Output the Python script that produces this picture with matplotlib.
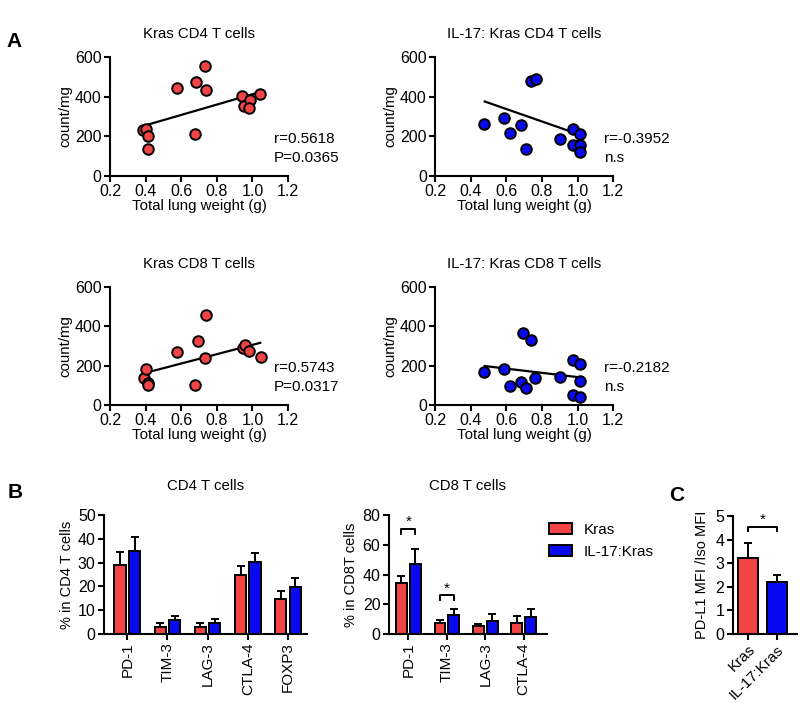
import matplotlib.pyplot as plt
import numpy as np

plt.rcParams['font.family'] = ['Liberation Sans', 'DejaVu Sans']
plt.rcParams['font.size'] = 10

RED = '#f24444'
BLUE = '#0a0af0'

# Panel A data: total lung weight (g) vs count/mg
kras_cd4_w = [0.388, 0.403, 0.416, 0.416, 0.579, 0.684, 0.678, 0.731, 0.738, 0.941, 0.954, 0.988, 0.982, 1.044]
kras_cd4_c = [230, 239, 200, 138, 445, 474, 213, 553, 435, 402, 351, 381, 343, 412]
il17_cd4_w = [0.476, 0.585, 0.622, 0.682, 0.710, 0.738, 0.767, 0.900, 0.975, 0.975, 1.016, 1.016, 1.011]
il17_cd4_c = [260, 294, 217, 257, 138, 477, 489, 185, 237, 158, 210, 158, 121]
kras_cd8_w = [0.391, 0.403, 0.412, 0.412, 0.579, 0.678, 0.693, 0.731, 0.737, 0.945, 0.960, 0.981, 1.048]
kras_cd8_c = [135, 184, 113, 100, 270, 101, 326, 240, 456, 289, 306, 275, 242]
il17_cd8_w = [0.476, 0.585, 0.622, 0.682, 0.710, 0.693, 0.738, 0.763, 0.900, 0.975, 1.016, 1.016, 0.975, 1.013]
il17_cd8_c = [169, 181, 96, 117, 84, 365, 328, 137, 144, 228, 208, 123, 51, 39]

# regression line ends as printed (x, y)
fit_kras_cd4 = ([0.397, 1.044], [255, 424])
fit_il17_cd4 = ([0.478, 1.007], [376, 210])
fit_kras_cd8 = ([0.403, 1.044], [164, 316])
fit_il17_cd8 = ([0.478, 1.016], [198, 140])

# Panel B data
cd4_markers = ['PD-1', 'TIM-3', 'LAG-3', 'CTLA-4', 'FOXP3']
cd4_kras = [29, 3, 3, 25, 14.7]
cd4_kras_err = [5.5, 1.5, 1.5, 3.5, 3.2]
cd4_il17 = [34.7, 5.7, 4.5, 30.3, 19.6]
cd4_il17_err = [6, 2, 2, 3.7, 3.8]

cd8_markers = ['PD-1', 'TIM-3', 'LAG-3', 'CTLA-4']
cd8_kras = [34.5, 7.5, 5.7, 7.2]
cd8_kras_err = [4.5, 2, 0.8, 4.8]
cd8_il17 = [47.3, 12.7, 8.5, 11.2]
cd8_il17_err = [10.2, 4.3, 5, 5.8]

# Panel C data
c_groups = ['Kras', 'IL-17:Kras']
c_vals = [3.22, 2.22]
c_err = [0.63, 0.28]

fig = plt.figure(figsize=(8, 7.08), dpi=100)


def style(ax):
    for s in ['top', 'right']:
        ax.spines[s].set_visible(False)
    for s in ['left', 'bottom']:
        ax.spines[s].set_linewidth(1.5)
    ax.tick_params(width=1.5, length=4, labelsize=11.5, pad=2)


def scatter_panel(rect, w, c, fit, color, title, r_txt, p_txt, tx):
    ax = fig.add_axes(rect)
    style(ax)
    ax.scatter(w, c, s=58, color=color, edgecolors='black', linewidths=1.4, zorder=3, clip_on=False)
    ax.plot(fit[0], fit[1], color='black', lw=1.6, zorder=2)
    ax.set_xlim(0.2, 1.2)
    ax.set_ylim(0, 600)
    ax.set_xticks([0.2, 0.4, 0.6, 0.8, 1.0, 1.2])
    ax.set_yticks([0, 200, 400, 600])
    ax.set_xlabel('Total lung weight (g)', fontsize=10.8, labelpad=0)
    ax.set_ylabel('count/mg', fontsize=10.8, labelpad=2)
    ax.set_title(title, fontsize=10.8, pad=14)
    ax.text(tx, 0.31, r_txt, transform=ax.transAxes, fontsize=11, va='center')
    ax.text(tx, 0.15, p_txt, transform=ax.transAxes, fontsize=11, va='center')
    return ax


scatter_panel([0.1375, 0.7514, 0.2225, 0.168], kras_cd4_w, kras_cd4_c, fit_kras_cd4, RED,
              'Kras CD4 T cells', 'r=0.5618', 'P=0.0365', 0.92)
scatter_panel([0.544, 0.7514, 0.2225, 0.168], il17_cd4_w, il17_cd4_c, fit_il17_cd4, BLUE,
              'IL-17: Kras CD4 T cells', 'r=-0.3952', 'n.s', 0.95)
scatter_panel([0.1375, 0.428, 0.2225, 0.1667], kras_cd8_w, kras_cd8_c, fit_kras_cd8, RED,
              'Kras CD8 T cells', 'r=0.5743', 'P=0.0317', 0.92)
scatter_panel([0.544, 0.428, 0.2225, 0.1667], il17_cd8_w, il17_cd8_c, fit_il17_cd8, BLUE,
              'IL-17: Kras CD8 T cells', 'r=-0.2182', 'n.s', 0.95)


def bar_panel(rect, markers, k, ke, il, ile, ymax, ystep, xlim, title, ylabel):
    ax = fig.add_axes(rect)
    style(ax)
    x = np.arange(len(markers))
    w = 0.28
    ax.bar(x - 0.18, k, w, color=RED, edgecolor='black', lw=1.4, label='Kras', zorder=2)
    ax.bar(x + 0.18, il, w, color=BLUE, edgecolor='black', lw=1.4, label='IL-17:Kras', zorder=2)
    ax.errorbar(x - 0.18, k, yerr=[np.zeros(len(k)), ke], fmt='none', ecolor='black',
                elinewidth=1.4, capsize=3, capthick=1.4, zorder=1)
    ax.errorbar(x + 0.18, il, yerr=[np.zeros(len(il)), ile], fmt='none', ecolor='black',
                elinewidth=1.4, capsize=3, capthick=1.4, zorder=1)
    ax.set_xticks(x)
    ax.set_xticklabels(markers, rotation=90, fontsize=11)
    ax.set_xlim(*xlim)
    ax.set_ylim(0, ymax)
    ax.set_yticks(np.arange(0, ymax + 1, ystep))
    ax.set_ylabel(ylabel, fontsize=10.5, labelpad=3)
    ax.set_title(title, fontsize=10.8, pad=18)
    return ax


bar_panel([0.13, 0.1045, 0.254, 0.168], cd4_markers, cd4_kras, cd4_kras_err,
          cd4_il17, cd4_il17_err, 50, 10, (-0.58, 4.48), 'CD4 T cells', '% in CD4 T cells')
ax8 = bar_panel([0.486, 0.1045, 0.1975, 0.168], cd8_markers, cd8_kras, cd8_kras_err,
                cd8_il17, cd8_il17_err, 80, 20, (-0.51, 3.6), 'CD8 T cells', '% in CD8T cells')


def bracket(ax, x0, x1, y, h):
    ax.plot([x0, x0, x1, x1], [y - h, y, y, y - h], color='black', lw=1.4, clip_on=False)
    ax.text((x0 + x1) / 2, y, '*', ha='center', va='bottom', fontsize=11)


bracket(ax8, -0.18, 0.18, 70.5, 3)
bracket(ax8, 0.82, 1.18, 26, 3)
ax8.legend(loc='upper left', bbox_to_anchor=(0.93, 1.05), frameon=False, fontsize=11,
           handlelength=1.45, handleheight=0.75, handletextpad=0.8, labelspacing=0.5)

# Panel C
axc = fig.add_axes([0.916, 0.1045, 0.08, 0.1667])
style(axc)
xc = np.arange(len(c_groups))
axc.bar(xc, c_vals, 0.69, color=[RED, BLUE], edgecolor='black', lw=1.4, zorder=2)
axc.errorbar(xc, c_vals, yerr=[np.zeros(2), c_err], fmt='none', ecolor='black',
             elinewidth=1.4, capsize=3, capthick=1.4, zorder=1)
axc.set_xlim(-0.52, 1.69)
axc.set_ylim(0, 5)
axc.set_yticks(range(6))
axc.set_xticks(xc)
axc.set_xticklabels(c_groups, rotation=45, ha='right', rotation_mode='anchor', fontsize=11)
axc.set_ylabel('PD-L1 MFI /Iso MFI', fontsize=10.5, labelpad=5)
bracket(axc, 0, 1, 4.55, 0.2)

# panel letters
fig.text(0.008, 0.933, 'A', fontsize=15, fontweight='bold')
fig.text(0.01, 0.297, 'B', fontsize=15, fontweight='bold')
fig.text(0.836, 0.293, 'C', fontsize=15, fontweight='bold')

fig.savefig('out.png', dpi=100)
